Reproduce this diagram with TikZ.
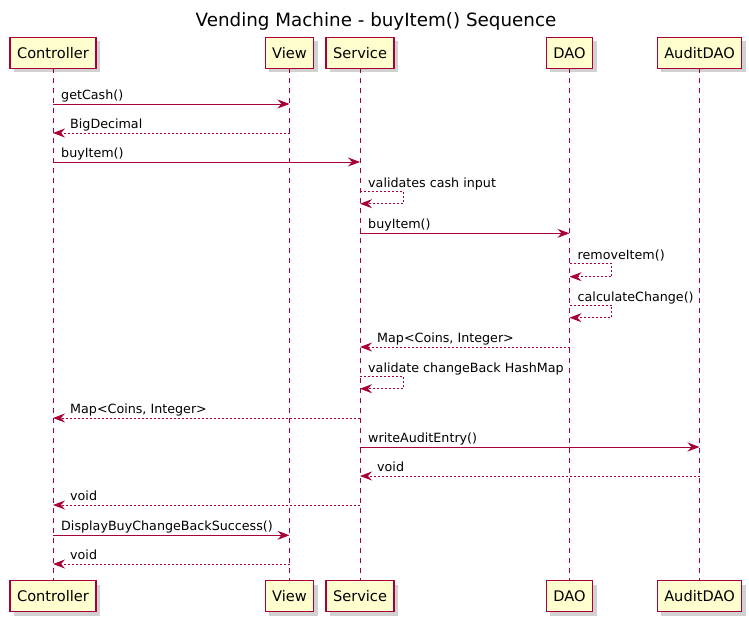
\documentclass[tikz,border=0pt]{standalone}
\usepackage{fontspec}
\setmainfont{DejaVu Sans}
\usetikzlibrary{arrows.meta,shadows}
\definecolor{pborder}{HTML}{A80036}
\definecolor{pfill}{HTML}{FEFECE}
\tikzset{
  part/.style={draw=pborder, fill=pfill, line width=1.2pt, inner xsep=7pt, inner ysep=0pt,
    minimum height=31pt, font=\fontsize{14.6}{17}\selectfont,
    drop shadow={shadow xshift=4pt, shadow yshift=-4pt, fill=black, opacity=0.18}},
  life/.style={draw=pborder, line width=1pt, dash pattern=on 5pt off 5pt},
  msg/.style={draw=pborder, line width=1pt, -{Stealth[length=12pt,width=9pt,inset=4pt]}},
  ret/.style={msg, dash pattern=on 2pt off 2pt},
  lbl/.style={anchor=base west, inner sep=0pt, font=\fontsize{12.7}{15}\selectfont},
}
\begin{document}
\begin{tikzpicture}[x=1pt,y=-1pt]
\useasboundingbox (0,0) rectangle (749,621);
\node[anchor=base, font=\fontsize{18.3}{22}\selectfont] (title) at (376,27) {Vending Machine - buyItem() Sequence};
% lifelines
\foreach \n/\x in {ctrl/53, view/289.5, svc/360, dao/569.5, adao/699.5}{
  \coordinate (\n) at (\x,0);
  \draw[life] (\x,68) -- (\x,581);
}
% participants
\foreach \n/\x/\t in {ctrl/53/Controller, view/289.5/View, svc/360/Service, dao/569.5/DAO, adao/699.5/AuditDAO}{
  \node[part] (\n top) at (\x,52.8) {\t};
  \node[part] (\n bot) at (\x,596.3) {\t};
}
% messages
\draw[msg] (ctrl |- 0,104) -- (view |- 0,104);
\node[lbl] (m1) at ([xshift=8pt]ctrl |- 0,99) {getCash()};
\draw[ret] (view |- 0,133) -- (ctrl |- 0,133);
\node[lbl] (m2) at ([xshift=17pt]ctrl |- 0,128) {BigDecimal};
\draw[msg] (ctrl |- 0,162) -- (svc |- 0,162);
\node[lbl] (m3) at ([xshift=8pt]ctrl |- 0,157) {buyItem()};
\draw[ret] (svc |- 0,191.7) -- ++(43.3,0) -- ++(0,12) -- (svc |- 0,203.7);
\node[lbl] (m4) at ([xshift=8pt]svc |- 0,187.5) {validates cash input};
\draw[msg] (svc |- 0,233.3) -- (dao |- 0,233.3);
\node[lbl] (m5) at ([xshift=8pt]svc |- 0,228.3) {buyItem()};
\draw[ret] (dao |- 0,263.7) -- ++(42.2,0) -- ++(0,13) -- (dao |- 0,276.7);
\node[lbl] (m6) at ([xshift=8pt]dao |- 0,259.5) {removeItem()};
\draw[ret] (dao |- 0,305.3) -- ++(42.2,0) -- ++(0,12.4) -- (dao |- 0,317.7);
\node[lbl] (m7) at ([xshift=8pt]dao |- 0,301.1) {calculateChange()};
\draw[ret] (dao |- 0,347) -- (svc |- 0,347);
\node[lbl] (m8) at ([xshift=17pt]svc |- 0,342) {Map<Coins, Integer>};
\draw[ret] (svc |- 0,376.3) -- ++(43.3,0) -- ++(0,12.4) -- (svc |- 0,388.7);
\node[lbl] (m9) at ([xshift=8pt]svc |- 0,372.1) {validate changeBack HashMap};
\draw[ret] (svc |- 0,418) -- (ctrl |- 0,418);
\node[lbl] (m10) at ([xshift=17pt]ctrl |- 0,413) {Map<Coins, Integer>};
\draw[msg] (svc |- 0,447) -- (adao |- 0,447);
\node[lbl] (m11) at ([xshift=8pt]svc |- 0,442) {writeAuditEntry()};
\draw[ret] (adao |- 0,476) -- (svc |- 0,476);
\node[lbl] (m12) at ([xshift=17pt]svc |- 0,471) {void};
\draw[ret] (svc |- 0,505) -- (ctrl |- 0,505);
\node[lbl] (m13) at ([xshift=17pt]ctrl |- 0,500) {void};
\draw[msg] (ctrl |- 0,535.3) -- (view |- 0,535.3);
\node[lbl] (m14) at ([xshift=8pt]ctrl |- 0,530.3) {DisplayBuyChangeBackSuccess()};
\draw[ret] (view |- 0,564) -- (ctrl |- 0,564);
\node[lbl] (m15) at ([xshift=17pt]ctrl |- 0,559) {void};
\end{tikzpicture}
\end{document}
